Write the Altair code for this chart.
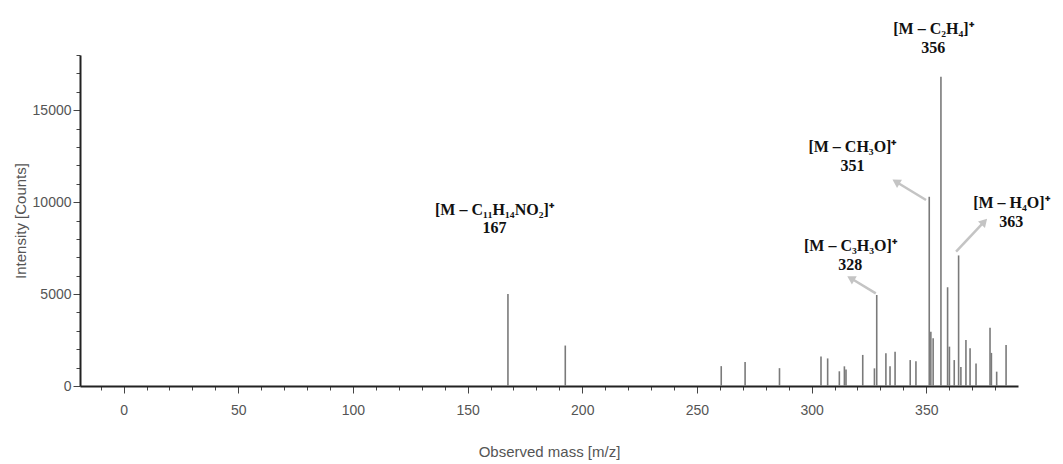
import altair as alt
import pandas as pd

# Peak list (m/z, intensity in counts)
peak_mz = [167.6, 192.6, 260.6, 271.0, 286.0, 304.1, 307.0, 312.1, 314.3, 315.0,
           322.3, 327.4, 328.4, 332.4, 334.2, 336.4, 343.0, 345.5, 351.3, 352.0,
           353.0, 356.4, 359.3, 360.1, 362.2, 364.1, 365.1, 367.3, 369.1, 371.7,
           377.8, 378.4, 380.7, 384.8]
peak_int = [5000, 2200, 1080, 1300, 970, 1600, 1500, 800, 1070, 900,
            1690, 960, 4950, 1780, 1070, 1860, 1410, 1350, 10290, 2950,
            2600, 16820, 5370, 2140, 1410, 7100, 1040, 2500, 2050, 1230,
            3170, 1800, 780, 2230]

# Fragment annotations
ann_formula = ["[M – C₁₁H₁₄NO₂]⁺", "[M – C₂H₄]⁺", "[M – CH₃O]⁺", "[M – C₃H₃O]⁺", "[M – H₄O]⁺"]
ann_value = ["167", "356", "351", "328", "363"]
ann_x = [161.7, 353.1, 317.8, 316.9, 387.1]
ann_y_formula = [9570, 19413, 12996, 7613, 9951]
ann_y_value = [8590, 18407, 11990, 6580, 8918]

# Arrows (from peak toward label), data units
arrow_x1 = [328.0, 349.9, 363.0]
arrow_y1 = [5040, 10114, 7303]
arrow_x2 = [317.1, 336.8, 375.3]
arrow_y2 = [5860, 11109, 8934]
arrow_angle = [301, 301, 43]

x_ticks = list(range(-10, 390, 10))
y_ticks = list(range(0, 18001, 1000))

peaks = pd.DataFrame({"mz": peak_mz, "intensity": peak_int, "zero": [0] * len(peak_mz)})
ann_rows = []
for f, v, x, y1, y2 in zip(ann_formula, ann_value, ann_x, ann_y_formula, ann_y_value):
    ann_rows.append({"x": x, "y": y1, "t": f})
    ann_rows.append({"x": x, "y": y2, "t": v})
ann = pd.DataFrame(ann_rows)
arrows = pd.DataFrame({"x1": arrow_x1, "y1": arrow_y1, "x2": arrow_x2, "y2": arrow_y2,
                       "angle": arrow_angle})

xscale = alt.Scale(domain=[-19, 390], nice=False, zero=False)
yscale = alt.Scale(domain=[0, 18000], nice=False)

label_font = "Liberation Sans Narrow, Liberation Sans, sans-serif"

x_axis = alt.Axis(
    title="Observed mass [m/z]", values=x_ticks, format="d",
    labelExpr="datum.value % 50 === 0 ? datum.label : ''",
    labelOverlap=False, labelFlush=False,
    tickSize={"condition": {"test": "datum.value % 50 === 0", "value": 7}, "value": 4},
    grid=False, domainColor="#222222", domainWidth=2, tickColor="#444444", tickWidth=1,
    labelFont=label_font, labelFontSize=14, labelColor="#555555", labelPadding=10,
    titleFont=label_font, titleFontSize=15, titleFontWeight="normal", titleColor="#555555",
    titlePadding=27,
)
y_axis = alt.Axis(
    title="Intensity [Counts]", values=y_ticks, format="d",
    labelExpr="datum.value % 5000 === 0 ? datum.label : ''",
    labelOverlap=False, labelFlush=False,
    tickSize={"condition": {"test": "datum.value % 5000 === 0", "value": 7}, "value": 4},
    grid=False, domainColor="#222222", domainWidth=2, tickColor="#444444", tickWidth=1,
    labelFont=label_font, labelFontSize=14, labelColor="#555555", labelPadding=2,
    titleFont=label_font, titleFontSize=15, titleFontWeight="normal", titleColor="#555555",
    titlePadding=4,
)

bars = alt.Chart(peaks).mark_rule(color="#7a7a7a", strokeWidth=1.6).encode(
    x=alt.X("mz:Q", scale=xscale, axis=x_axis),
    y=alt.Y("zero:Q", scale=yscale, axis=y_axis),
    y2="intensity:Q",
)

arrow_lines = alt.Chart(arrows).mark_rule(color="#c4c4c4", strokeWidth=2.5).encode(
    x=alt.X("x1:Q", scale=xscale, axis=x_axis), y=alt.Y("y1:Q", scale=yscale, axis=y_axis),
    x2="x2:Q", y2="y2:Q",
)
arrow_heads = alt.Chart(arrows).mark_point(
    shape="triangle-up", filled=True, color="#c4c4c4", opacity=1, size=90
).encode(
    x=alt.X("x2:Q", scale=xscale, axis=x_axis), y=alt.Y("y2:Q", scale=yscale, axis=y_axis),
    angle=alt.Angle("angle:Q", scale=None),
)

labels = alt.Chart(ann).mark_text(
    font="Liberation Serif", fontWeight="bold", fontSize=16, color="#111111",
    align="center", baseline="middle",
).encode(
    x=alt.X("x:Q", scale=xscale, axis=x_axis), y=alt.Y("y:Q", scale=yscale, axis=y_axis),
    text="t:N",
)

chart = alt.layer(bars, arrow_lines, arrow_heads, labels).properties(
    width=938, height=331,
    autosize=alt.AutoSizeParams(type="none"),
    padding={"left": 72, "top": 47, "right": 37, "bottom": 77},
    background="white",
).configure_view(stroke=None).configure_axis(labelOverlap=False)

chart.save("out.html", embed_options={"renderer": "svg", "actions": False})
